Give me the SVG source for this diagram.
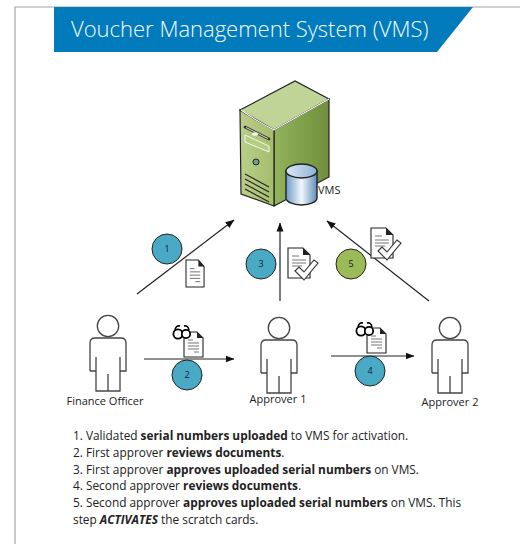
<svg xmlns="http://www.w3.org/2000/svg" width="520" height="544" viewBox="0 0 520 544">
<style>
text{font-family:"Open Sans","Noto Sans","Liberation Sans",sans-serif;fill:#222}
.l{font-size:11px}
.n{font-size:9px;text-anchor:middle;fill:#123}
.b{font-size:11.85px}
.b tspan.s{font-weight:700}
.p{fill:#fff;stroke:#444;stroke-width:1.3}
.i{fill:none;stroke:#444;stroke-width:1.3}
.c{stroke:#222;stroke-width:1.2;fill:none;marker-end:url(#a)}
.t{fill:#4aa9c4;stroke:#222;stroke-width:1}
.g{fill:#9bbb59;stroke:#222;stroke-width:1}
.d{fill:#fff;stroke:#222;stroke-width:1.1}
.dl{stroke:#666;stroke-width:.9;fill:none}
</style>
<defs>
<marker id="a" markerUnits="userSpaceOnUse" markerWidth="9" markerHeight="8" refX="8.5" refY="4" orient="auto"><path d="M0 .5L9 4L0 7.5z" fill="#111"/></marker>
<linearGradient id="fr" x1="0" y1="0" x2="1" y2="0"><stop offset="0" stop-color="#b9cf8a"/><stop offset="1" stop-color="#a3bd6c"/></linearGradient>
<linearGradient id="si" x1="0" y1="0" x2="1" y2="0"><stop offset="0" stop-color="#93b25c"/><stop offset="1" stop-color="#6f8f3c"/></linearGradient>
<linearGradient id="cy" x1="0" y1="0" x2="1" y2="0"><stop offset="0" stop-color="#6f9bc8"/><stop offset=".5" stop-color="#f2f7fb"/><stop offset="1" stop-color="#5f8cba"/></linearGradient>
<linearGradient id="ct" x1="0" y1="0" x2="1" y2="0"><stop offset="0" stop-color="#dbe7f3"/><stop offset="1" stop-color="#8fb2d6"/></linearGradient>
<g id="doc"><path class="d" d="M0 0H13L19 6V25H0z"/><path d="M13 0L19 6H13z" fill="#222"/><path class="dl" d="M4 8H9M4 11H15M4 14H15M4 17H15M10 20H15"/></g>
<g id="adoc"><path d="M0 0H15L22 7V30H0z" fill="#fff" stroke="#222" stroke-width="1.1"/><path d="M15 0L22 7H15z" fill="#222"/><path class="dl" d="M4 8H11M4 12H18M4 15H18M4 18H14"/><path d="M7 23L11 19L16 24L26 12L30 15L16 32z" fill="#fff" stroke="#333" stroke-width="1.1"/></g>
<g id="gl"><path d="M2 4Q3 -1 7 0M11 0Q15 -1 16 4" fill="none" stroke="#000" stroke-width="1.6"/><circle cx="5" cy="8" r="4.6" fill="#fff" stroke="#000" stroke-width="1.8"/><circle cx="13" cy="8" r="4.2" fill="#fff" stroke="#000" stroke-width="1.8"/></g>
<g id="person"><circle cx="0" cy="0" r="10.7" class="p"/><path class="i" d="M-12 31V65H12V31M-18 45V17Q-18 12 -13 12H13Q18 12 18 17V45H12M-18 45H-12M0 48V65"/></g>
</defs>
<rect width="520" height="544" fill="#fff"/>
<path d="M15 544V7H520" fill="none" stroke="#a6a6a6" stroke-width="1.2"/>
<g id="header"><path d="M54 7H473L437 52H54z" fill="#027bbd"/><text x="71" y="37" style="font-size:22px;font-weight:300;fill:#f4fbff">Voucher Management System (VMS)</text></g>
<g id="connectors">
<path class="c" d="M137 294L234 220"/>
<path class="c" d="M280 301V223"/>
<path class="c" d="M429 301L327 221"/>
<path class="c" d="M144 359H234"/>
<path class="c" d="M331 356H414"/>
</g>
<g id="vms">
<path d="M240 110L295 81L329 99L274 130z" fill="#c0d498" stroke="#222" stroke-width="1.2"/>
<path d="M274 130L329 99V177L274 206z" fill="url(#si)" stroke="#222" stroke-width="1.2"/>
<path d="M240 110Q258 122 274 130V206L241 194z" fill="url(#fr)" stroke="#222" stroke-width="1.2"/>
<path d="M241 110Q258 122 274 130L329 99" fill="none" stroke="#fff" stroke-width="1.1"/>
<path d="M245 127L269 139" stroke="#333" stroke-width="2.6" stroke-linecap="round" fill="none"/>
<path d="M246 127.500L268 138.500" stroke="#dfe8c9" stroke-width="1" fill="none"/>
<ellipse cx="255" cy="134" rx="3" ry="1.8" fill="#f1f4e6"/>
<path d="M245 135L269 146V152L245 142z" fill="#b5cc85" stroke="#f4f7ea" stroke-width="1"/>
<circle cx="256" cy="162" r="3" fill="#6fa08c" stroke="#222"/>
<path d="M245 174L269 187M245 179L269 192M245 184L269 197M245 189L269 202" stroke="#222" stroke-width="1.1" fill="none"/>
<path d="M286 171V198A15.500 7 0 0 0 317 198V171z" fill="url(#cy)" stroke="#222" stroke-width="1.4"/>
<ellipse cx="301.500" cy="171" rx="15.500" ry="7" fill="url(#ct)" stroke="#222" stroke-width="1.4"/>
<text class="l" x="318" y="194">VMS</text>
</g>
<g id="step1"><circle class="t" cx="167" cy="249" r="15"/><text class="n" x="167" y="252">1</text></g>
<g id="step3"><circle class="t" cx="261" cy="264" r="15"/><text class="n" x="261" y="267">3</text></g>
<g id="step5"><circle class="g" cx="351" cy="264" r="15"/><text class="n" x="351" y="267">5</text></g>
<g id="step2"><circle class="t" cx="187" cy="375" r="15"/><text class="n" x="187" y="378">2</text></g>
<g id="step4"><circle class="t" cx="370" cy="371" r="15"/><text class="n" x="370" y="374">4</text></g>
<g id="doc1"><use href="#doc" x="186" y="260" transform="translate(186 260) scale(.95 1.08) translate(-186 -260)"/></g>
<g id="doc3"><use href="#adoc" x="288" y="248"/></g>
<g id="doc5"><use href="#adoc" x="371" y="228"/></g>
<g id="doc2"><use href="#doc" x="184" y="332"/><use href="#gl" x="173" y="326"/></g>
<g id="doc4"><use href="#doc" x="367" y="328"/><use href="#gl" x="356" y="323"/></g>
<g id="finance"><use href="#person" x="108" y="326"/><text class="l" x="105" y="405" text-anchor="middle">Finance Officer</text></g>
<g id="approver1"><use href="#person" x="279" y="328"/><text class="l" x="278" y="403" text-anchor="middle">Approver 1</text></g>
<g id="approver2"><use href="#person" x="450" y="328"/><text class="l" x="450" y="406" text-anchor="middle">Approver 2</text></g>
<g id="notes">
<text class="b" x="73" y="440">1. Validated <tspan class="s">serial numbers uploaded</tspan> to VMS for activation.</text>
<text class="b" x="73" y="457">2. First approver <tspan class="s">reviews documents</tspan>.</text>
<text class="b" x="73" y="474">3. First approver <tspan class="s">approves uploaded serial numbers</tspan> on VMS.</text>
<text class="b" x="73" y="490">4. Second approver <tspan class="s">reviews documents</tspan>.</text>
<text class="b" x="73" y="507">5. Second approver <tspan class="s">approves uploaded serial numbers</tspan> on VMS. This</text>
<text class="b" x="73" y="524">step <tspan class="s" font-style="italic">ACTIVATES</tspan> the scratch cards.</text>
</g>
</svg>
